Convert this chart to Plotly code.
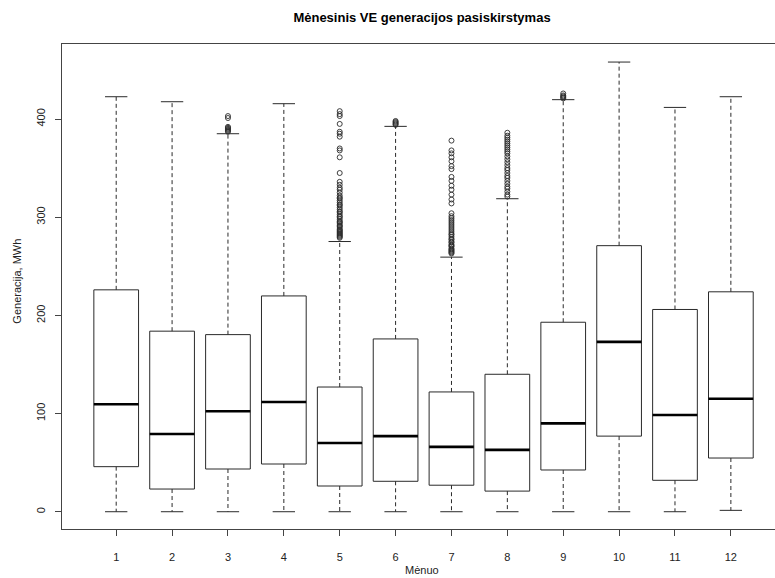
import plotly.graph_objects as go

months = [1, 2, 3, 4, 5, 6, 7, 8, 9, 10, 11, 12]
month_labels = ["1", "2", "3", "4", "5", "6", "7", "8", "9", "10", "11", "12"]
lower_whisker = [0, 0, 0, 0, 0, 0, 0, 0, 0, 0, 0, 1.4]
q1 = [45.9, 23.1, 43.5, 48.6, 26.2, 31, 27, 21, 42.5, 77, 32, 54.7]
median = [109.5, 79.2, 102.3, 111.8, 70, 77, 66, 63, 90, 173, 98.5, 115]
q3 = [226, 183.9, 180.4, 219.8, 127, 176, 122, 140, 193, 271, 206, 224]
upper_whisker = [422.7, 417.6, 385, 415.6, 275.2, 392.5, 259.3, 318.8, 419.7, 458, 411.8, 422.7]

outliers = {
    3: [387, 388, 389, 390, 391, 392, 401, 403],
    5: [279, 280, 281, 282, 283, 284, 285, 286, 287, 288, 290, 291, 292, 294, 295, 296,
        298, 300, 301, 303, 305, 306, 308, 310, 312, 313, 315, 317, 319, 320, 322, 325,
        328, 330, 333, 336, 345, 361, 368, 370, 382, 385, 387, 395, 403, 405, 408],
    6: [394, 395, 396, 397, 398],
    7: [263, 264, 265, 266, 267, 268, 270, 271, 272, 274, 275, 277, 278, 280, 282, 283,
        285, 287, 289, 291, 293, 295, 297, 299, 301, 304, 314, 318, 323, 328, 332, 337,
        341, 349, 352, 357, 361, 365, 368, 378],
    8: [321, 323, 326, 329, 331, 334, 337, 340, 342, 345, 348, 350, 353, 356, 359, 362,
        365, 367, 369, 371, 373, 375, 377, 379, 381, 383, 386],
    9: [421, 422, 423, 424, 426],
}

title_text = "Mėnesinis VE generacijos pasiskirstymas"
x_title = "Mėnuo"
y_title = "Generacija, MWh"
y_ticks = [0, 100, 200, 300, 400]

BOX_HALF = 0.4
CAP_HALF = 0.2
LINE = "#2a2a2a"
FONT = "Liberation Sans, Arial, sans-serif"

box_x, box_y = [], []
med_x, med_y = [], []
wh_x, wh_y = [], []
cap_x, cap_y = [], []
for m, lo, a, md, b, hi in zip(months, lower_whisker, q1, median, q3, upper_whisker):
    box_x += [m - BOX_HALF, m + BOX_HALF, m + BOX_HALF, m - BOX_HALF, m - BOX_HALF, None]
    box_y += [a, a, b, b, a, None]
    med_x += [m - BOX_HALF, m + BOX_HALF, None]
    med_y += [md, md, None]
    wh_x += [m, m, None, m, m, None]
    wh_y += [b, hi, None, a, lo, None]
    cap_x += [m - CAP_HALF, m + CAP_HALF, None, m - CAP_HALF, m + CAP_HALF, None]
    cap_y += [hi, hi, None, lo, lo, None]

out_x, out_y = [], []
for m, vals in outliers.items():
    out_x += [m] * len(vals)
    out_y += vals

fig = go.Figure()
fig.add_trace(go.Scatter(x=wh_x, y=wh_y, mode="lines",
                         line=dict(color=LINE, width=1, dash="4px,3px"), hoverinfo="skip"))
fig.add_trace(go.Scatter(x=cap_x, y=cap_y, mode="lines",
                         line=dict(color=LINE, width=1), hoverinfo="skip"))
fig.add_trace(go.Scatter(x=box_x, y=box_y, mode="lines",
                         line=dict(color=LINE, width=1), hoverinfo="skip"))
fig.add_trace(go.Scatter(x=med_x, y=med_y, mode="lines",
                         line=dict(color="#000000", width=2.6), hoverinfo="skip"))
fig.add_trace(go.Scatter(x=out_x, y=out_y, mode="markers",
                         marker=dict(symbol="circle-open", size=5, color=LINE,
                                     line=dict(width=0.9, color=LINE))))

fig.update_layout(
    width=775, height=578,
    margin=dict(l=62, r=0, t=44, b=49),
    paper_bgcolor="white", plot_bgcolor="white",
    showlegend=False,
    font=dict(family=FONT, size=11, color="#222"),
    title=dict(text="<b>" + title_text + "</b>", x=422 / 775, xanchor="center",
               y=1 - 17 / 578, yanchor="middle", font=dict(size=13, color="#000")),
    xaxis=dict(range=[0.03, 12.79], tickmode="array", tickvals=months, ticktext=month_labels,
               showgrid=False, zeroline=False, showline=True, linecolor="#444", linewidth=1,
               mirror=True, ticks="outside", ticklen=6, tickcolor="#444",
               ticklabelstandoff=12, tickfont=dict(size=11, color="#222")),
    yaxis=dict(range=[-17.6, 476.4], tickmode="array", tickvals=y_ticks,
               ticktext=[str(v) for v in y_ticks], tickangle=-90,
               showgrid=False, zeroline=False, showline=True, linecolor="#444", linewidth=1,
               ticks="outside", ticklen=6, tickcolor="#444",
               ticklabelstandoff=6, tickfont=dict(size=11, color="#222")),
    annotations=[
        dict(text=x_title, xref="paper", yref="paper", x=(422 - 62) / 713,
             y=-(570 - 529) / 485, xanchor="center", yanchor="middle",
             showarrow=False, font=dict(size=11, color="#222")),
        dict(text=y_title, xref="paper", yref="paper", x=(17 - 62) / 713,
             y=0.51, xanchor="center", yanchor="middle", textangle=-90,
             showarrow=False, font=dict(size=11, color="#222")),
    ],
)

fig.write_html("out.html")
